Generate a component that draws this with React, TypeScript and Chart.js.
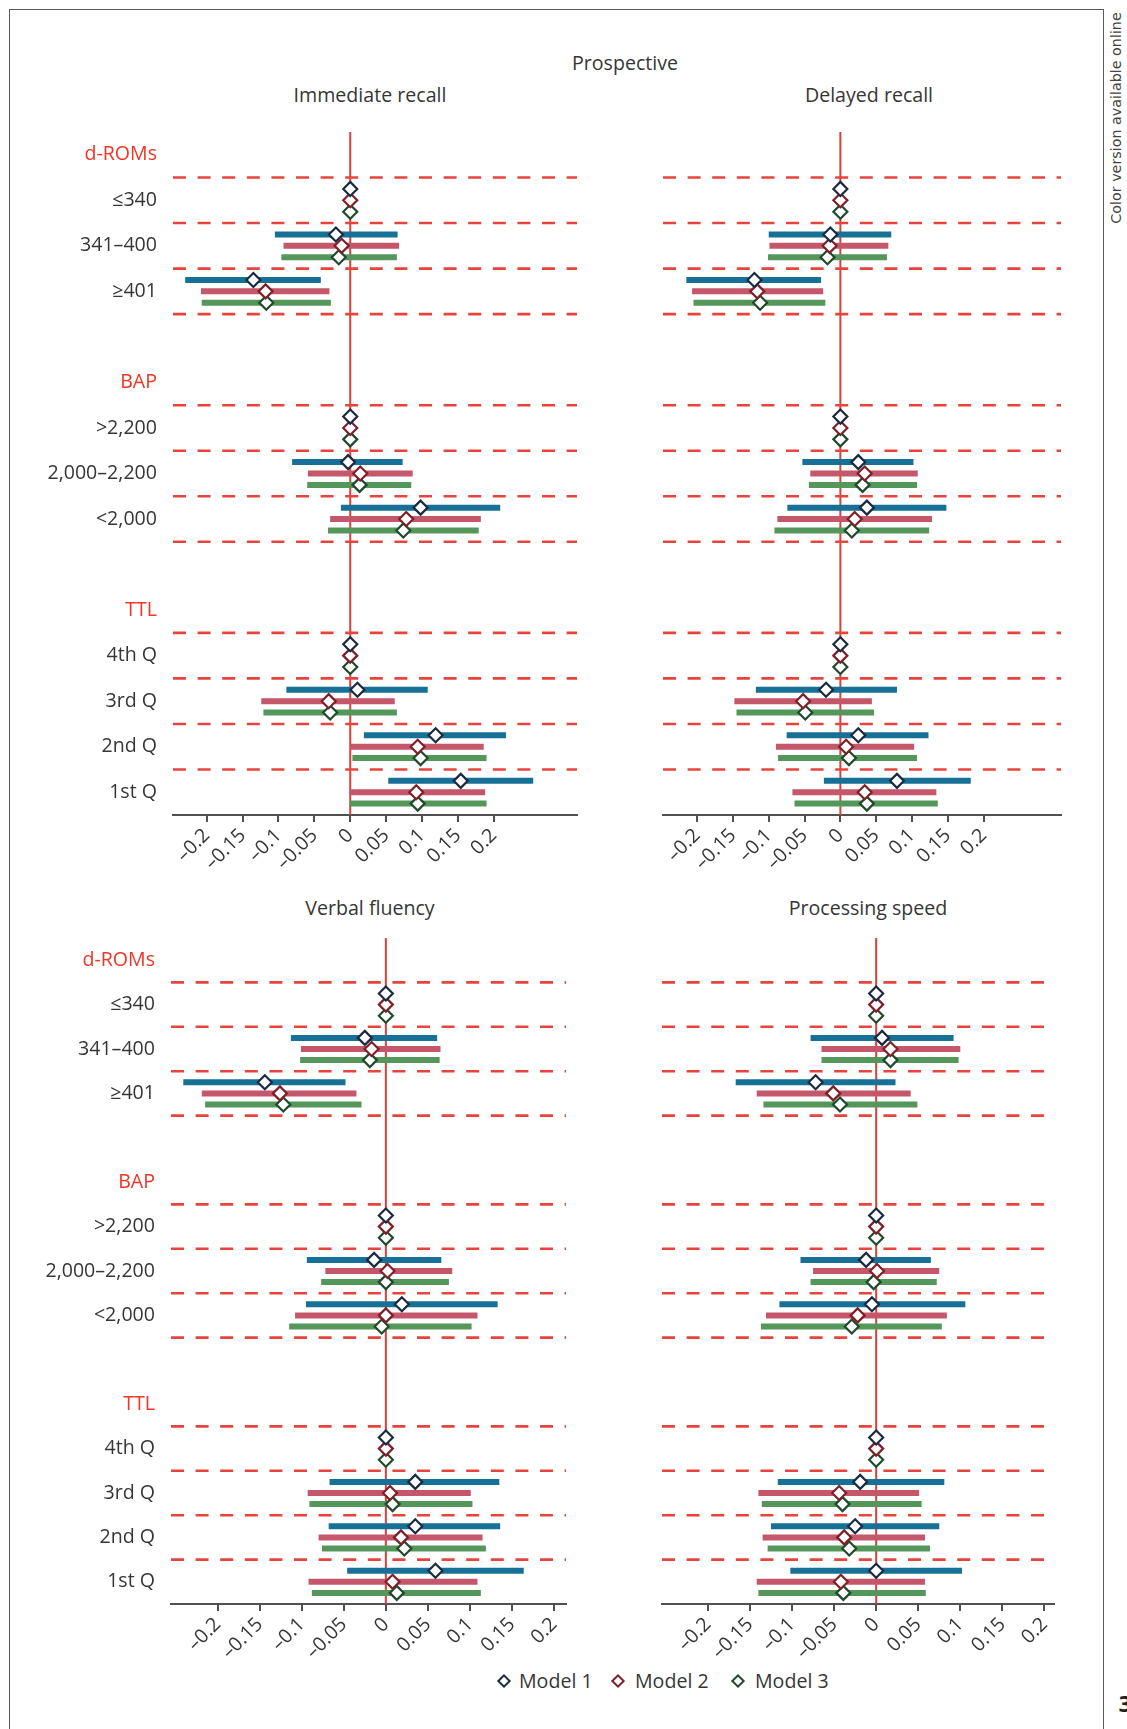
import React, { useEffect, useRef } from 'react';
import { Chart, registerables } from 'chart.js';

Chart.register(...registerables);

// ---------- structure ----------
const GROUPS = ['d-ROMs', 'BAP', 'TTL'];
const LEVELS = [
  ['≤340', '341–400', '≥401'],
  ['>2,200', '2,000–2,200', '<2,000'],
  ['4th Q', '3rd Q', '2nd Q', '1st Q'],
];
const MODELS = ['Model 1', 'Model 2', 'Model 3'];
const X_TICK_VALUES = [-0.2, -0.15, -0.1, -0.05, 0, 0.05, 0.1, 0.15, 0.2];
const X_TICK_LABELS = ['–0.2', '–0.15', '–0.1', '–0.05', '0', '0.05', '0.1', '0.15', '0.2'];

// ---------- data (row order: ≤340, 341–400, ≥401, >2,200, 2,000–2,200, <2,000, 4th Q, 3rd Q, 2nd Q, 1st Q) ----------
// Immediate recall
const IR_M1_EST = [0, -0.020, -0.135, 0, -0.003, 0.098, 0, 0.010, 0.119, 0.154];
const IR_M1_LO = [null, -0.105, -0.230, null, -0.081, -0.013, null, -0.089, 0.019, 0.053];
const IR_M1_HI = [null, 0.066, -0.041, null, 0.073, 0.209, null, 0.108, 0.217, 0.255];
const IR_M2_EST = [0, -0.012, -0.118, 0, 0.014, 0.078, 0, -0.030, 0.094, 0.092];
const IR_M2_LO = [null, -0.093, -0.208, null, -0.059, -0.028, null, -0.124, 0.000, -0.001];
const IR_M2_HI = [null, 0.068, -0.029, null, 0.087, 0.182, null, 0.062, 0.186, 0.188];
const IR_M3_EST = [0, -0.016, -0.117, 0, 0.013, 0.074, 0, -0.028, 0.098, 0.094];
const IR_M3_LO = [null, -0.096, -0.207, null, -0.060, -0.031, null, -0.121, 0.003, -0.001];
const IR_M3_HI = [null, 0.065, -0.027, null, 0.085, 0.179, null, 0.065, 0.190, 0.190];

// Delayed recall
const DR_M1_EST = [0, -0.014, -0.120, 0, 0.025, 0.037, 0, -0.020, 0.025, 0.079];
const DR_M1_LO = [null, -0.100, -0.215, null, -0.053, -0.074, null, -0.118, -0.075, -0.023];
const DR_M1_HI = [null, 0.071, -0.027, null, 0.102, 0.148, null, 0.079, 0.123, 0.182];
const DR_M2_EST = [0, -0.015, -0.116, 0, 0.034, 0.020, 0, -0.052, 0.008, 0.034];
const DR_M2_LO = [null, -0.099, -0.207, null, -0.042, -0.088, null, -0.148, -0.090, -0.067];
const DR_M2_HI = [null, 0.067, -0.024, null, 0.108, 0.128, null, 0.044, 0.103, 0.134];
const DR_M3_EST = [0, -0.018, -0.112, 0, 0.031, 0.016, 0, -0.049, 0.012, 0.037];
const DR_M3_LO = [null, -0.101, -0.205, null, -0.044, -0.092, null, -0.145, -0.087, -0.064];
const DR_M3_HI = [null, 0.065, -0.021, null, 0.107, 0.124, null, 0.047, 0.107, 0.136];

// Verbal fluency
const VF_M1_EST = [0, -0.025, -0.144, 0, -0.014, 0.019, 0, 0.035, 0.035, 0.059];
const VF_M1_LO = [null, -0.113, -0.241, null, -0.094, -0.095, null, -0.067, -0.068, -0.046];
const VF_M1_HI = [null, 0.061, -0.048, null, 0.066, 0.133, null, 0.135, 0.136, 0.164];
const VF_M2_EST = [0, -0.017, -0.126, 0, 0.002, 0.000, 0, 0.005, 0.018, 0.008];
const VF_M2_LO = [null, -0.101, -0.219, null, -0.072, -0.108, null, -0.093, -0.080, -0.092];
const VF_M2_HI = [null, 0.065, -0.035, null, 0.079, 0.109, null, 0.101, 0.115, 0.109];
const VF_M3_EST = [0, -0.019, -0.122, 0, 0.000, -0.005, 0, 0.008, 0.022, 0.013];
const VF_M3_LO = [null, -0.102, -0.215, null, -0.077, -0.115, null, -0.091, -0.076, -0.088];
const VF_M3_HI = [null, 0.064, -0.029, null, 0.075, 0.102, null, 0.103, 0.119, 0.113];

// Processing speed
const PS_M1_EST = [0, 0.007, -0.072, 0, -0.012, -0.005, 0, -0.019, -0.025, 0.000];
const PS_M1_LO = [null, -0.078, -0.167, null, -0.090, -0.115, null, -0.117, -0.125, -0.102];
const PS_M1_HI = [null, 0.092, 0.023, null, 0.065, 0.106, null, 0.081, 0.075, 0.102];
const PS_M2_EST = [0, 0.017, -0.051, 0, 0.001, -0.022, 0, -0.044, -0.038, -0.042];
const PS_M2_LO = [null, -0.065, -0.142, null, -0.075, -0.131, null, -0.140, -0.135, -0.142];
const PS_M2_HI = [null, 0.100, 0.041, null, 0.075, 0.084, null, 0.051, 0.058, 0.058];
const PS_M3_EST = [0, 0.017, -0.043, 0, -0.003, -0.029, 0, -0.040, -0.032, -0.039];
const PS_M3_LO = [null, -0.065, -0.134, null, -0.078, -0.137, null, -0.136, -0.129, -0.140];
const PS_M3_HI = [null, 0.098, 0.049, null, 0.072, 0.078, null, 0.054, 0.064, 0.059];

// ---------- styles ----------
const FONT = '"Open Sans", "DejaVu Sans", sans-serif';
const FONT_SIZE = 19.6;
const TEXT_COLOR = '#363636';
const HEADER_COLOR = '#ee3526';
const BAR_COLORS = ['#177196', '#c5576a', '#55975b'];
const DIAMOND_COLORS = ['#1b2a41', '#7d2028', '#1f4a2b'];
const DASH_COLOR = '#e6443c';
const ZERO_COLOR = '#d9403a';
const MODEL_OFFSETS = [-0.25, 0, 0.25];
const X_AXIS_HEIGHT = 60;

// build row layout from groups
const ROW_LABELS: string[] = [];
const HEADER_ROWS: number[] = [];
const LEVEL_ROWS: number[] = [];
const BOUNDARIES: number[] = [];
GROUPS.forEach((g, gi) => {
  HEADER_ROWS.push(ROW_LABELS.length);
  ROW_LABELS.push(g);
  LEVELS[gi].forEach((lv) => {
    BOUNDARIES.push(ROW_LABELS.length - 0.5);
    LEVEL_ROWS.push(ROW_LABELS.length);
    ROW_LABELS.push(lv);
  });
  if (gi < GROUPS.length - 1) {
    BOUNDARIES.push(ROW_LABELS.length - 0.5);
    ROW_LABELS.push('');
  }
});

type PanelSpec = {
  title: string;
  est: number[][];
  lo: (number | null)[][];
  hi: (number | null)[][];
  xMin: number;
  xMax: number;
  showLabels: boolean;
  yWidth: number;
  left: number;
  top: number;
  w: number;
  h: number;
};

const PANELS: PanelSpec[] = [
  {
    title: 'Immediate recall',
    est: [IR_M1_EST, IR_M2_EST, IR_M3_EST],
    lo: [IR_M1_LO, IR_M2_LO, IR_M3_LO],
    hi: [IR_M1_HI, IR_M2_HI, IR_M3_HI],
    xMin: -0.247, xMax: 0.316, showLabels: true, yWidth: 163,
    left: 10, top: 120, w: 571, h: 755,
  },
  {
    title: 'Delayed recall',
    est: [DR_M1_EST, DR_M2_EST, DR_M3_EST],
    lo: [DR_M1_LO, DR_M2_LO, DR_M3_LO],
    hi: [DR_M1_HI, DR_M2_HI, DR_M3_HI],
    xMin: -0.2476, xMax: 0.308, showLabels: false, yWidth: 63,
    left: 600, top: 120, w: 465, h: 755,
  },
  {
    title: 'Verbal fluency',
    est: [VF_M1_EST, VF_M2_EST, VF_M3_EST],
    lo: [VF_M1_LO, VF_M2_LO, VF_M3_LO],
    hi: [VF_M1_HI, VF_M2_HI, VF_M3_HI],
    xMin: -0.2556, xMax: 0.2143, showLabels: true, yWidth: 161,
    left: 10, top: 926, w: 560, h: 738,
  },
  {
    title: 'Processing speed',
    est: [PS_M1_EST, PS_M2_EST, PS_M3_EST],
    lo: [PS_M1_LO, PS_M2_LO, PS_M3_LO],
    hi: [PS_M1_HI, PS_M2_HI, PS_M3_HI],
    xMin: -0.2546, xMax: 0.2114, showLabels: false, yWidth: 62,
    left: 600, top: 926, w: 458, h: 738,
  },
];

const guidesPlugin = {
  id: 'guides',
  beforeDatasetsDraw(chart: any) {
    const { ctx, chartArea, scales } = chart;
    const x = scales.x;
    const y = scales.y;
    ctx.save();
    // zero reference line
    const px = x.getPixelForValue(0);
    ctx.strokeStyle = ZERO_COLOR;
    ctx.lineWidth = 2;
    ctx.beginPath();
    ctx.moveTo(px, chartArea.top);
    ctx.lineTo(px, chartArea.bottom);
    ctx.stroke();
    // dashed separators
    ctx.strokeStyle = DASH_COLOR;
    ctx.lineWidth = 2.6;
    ctx.setLineDash([13, 11.6]);
    BOUNDARIES.forEach((b) => {
      const py = y.getPixelForValue(b);
      ctx.beginPath();
      ctx.moveTo(chartArea.left, py);
      ctx.lineTo(chartArea.right, py);
      ctx.stroke();
    });
    ctx.restore();
  },
};

function buildConfig(spec: PanelSpec): any {
  const datasets: any[] = [];
  MODELS.forEach((m, mi) => {
    datasets.push({
      label: m,
      data: LEVEL_ROWS.map((r, i) => ({ x: spec.est[mi][i], y: r + MODEL_OFFSETS[mi] })),
      pointStyle: 'rectRot',
      pointRadius: 7,
      pointBorderWidth: 2.2,
      pointBackgroundColor: '#ffffff',
      pointBorderColor: DIAMOND_COLORS[mi],
      showLine: false,
      order: 0,
    });
  });
  MODELS.forEach((m, mi) => {
    const pts: any[] = [];
    LEVEL_ROWS.forEach((r, i) => {
      const lo = spec.lo[mi][i];
      const hi = spec.hi[mi][i];
      if (lo === null || hi === null) return;
      const yy = r + MODEL_OFFSETS[mi];
      pts.push({ x: lo, y: yy }, { x: hi, y: yy }, { x: null, y: null });
    });
    datasets.push({
      label: m + ' CI',
      data: pts,
      showLine: true,
      spanGaps: false,
      borderColor: BAR_COLORS[mi],
      borderWidth: 6,
      borderCapStyle: 'butt',
      pointRadius: 0,
      pointHoverRadius: 0,
      order: 1,
    });
  });

  return {
    type: 'scatter',
    data: { datasets },
    plugins: [guidesPlugin],
    options: {
      animation: false,
      responsive: false,
      maintainAspectRatio: false,
      events: [],
      layout: { autoPadding: false, padding: { top: 12, right: 4, bottom: 0, left: 0 } },
      plugins: { legend: { display: false }, tooltip: { enabled: false }, title: { display: false } },
      scales: {
        x: {
          type: 'linear',
          min: spec.xMin,
          max: spec.xMax,
          afterBuildTicks: (s: any) => {
            s.ticks = X_TICK_VALUES.map((v) => ({ value: v }));
          },
          afterFit: (s: any) => {
            s.height = X_AXIS_HEIGHT;
            s.paddingLeft = 0;
            s.paddingRight = 0;
          },
          ticks: {
            autoSkip: false,
            minRotation: 45,
            maxRotation: 45,
            padding: 2,
            color: TEXT_COLOR,
            font: { family: FONT, size: FONT_SIZE },
            callback: (_v: any, i: number) => X_TICK_LABELS[i],
          },
          grid: {
            display: true,
            drawOnChartArea: false,
            drawTicks: true,
            tickLength: 7,
            color: '#505050',
            lineWidth: 2,
          },
          border: { display: true, color: '#505050', width: 2 },
        },
        y: {
          type: 'linear',
          min: -0.5,
          max: ROW_LABELS.length - 0.5,
          reverse: true,
          afterBuildTicks: (s: any) => {
            s.ticks = ROW_LABELS.map((_l, i) => ({ value: i }));
          },
          afterFit: (s: any) => {
            s.width = spec.yWidth;
            s.paddingTop = 0;
            s.paddingBottom = 0;
          },
          ticks: {
            autoSkip: false,
            padding: 16,
            font: { family: FONT, size: FONT_SIZE },
            color: (ctx: any) => (HEADER_ROWS.includes(ctx.index) ? HEADER_COLOR : TEXT_COLOR),
            callback: (_v: any, i: number) => (spec.showLabels ? ROW_LABELS[i] : ''),
          },
          grid: { display: false, drawTicks: false },
          border: { display: false },
        },
      },
    },
  };
}

function Panel({ spec }: { spec: PanelSpec }) {
  const ref = useRef<HTMLCanvasElement | null>(null);
  useEffect(() => {
    if (!ref.current) return;
    const chart = new Chart(ref.current, buildConfig(spec));
    return () => chart.destroy();
  }, [spec]);
  return (
    <canvas
      ref={ref}
      width={spec.w}
      height={spec.h}
      style={{ position: 'absolute', left: spec.left, top: spec.top, width: spec.w, height: spec.h }}
    />
  );
}

const centered = (cx: number, cy: number, extra: any = {}) => ({
  position: 'absolute' as const,
  left: cx,
  top: cy,
  transform: 'translate(-50%, -50%)',
  whiteSpace: 'nowrap' as const,
  lineHeight: 1,
  fontFamily: FONT,
  fontSize: FONT_SIZE,
  color: TEXT_COLOR,
  ...extra,
});

const TITLE_POS = [
  [370, 95],
  [869, 95],
  [370, 908],
  [868, 908],
];
const LEGEND_DIAMOND_X = [504, 618, 738];
const LEGEND_TEXT_X = [519, 635, 755];
const LEGEND_Y = 1681;

export default function App() {
  return (
    <div
      style={{
        position: 'absolute',
        left: 0,
        top: 0,
        width: 1127,
        height: 1729,
        overflow: 'hidden',
        background: '#ffffff',
      }}
    >
      {/* frame */}
      <div
        style={{
          position: 'absolute',
          left: 9,
          top: 9,
          width: 1095,
          height: 1760,
          borderLeft: '1.5px solid #5a5a5a',
          borderTop: '1.5px solid #5a5a5a',
          borderRight: '1.5px solid #5a5a5a',
          boxSizing: 'border-box',
        }}
      />
      <div style={centered(625, 63)}>Prospective</div>
      {PANELS.map((p, i) => (
        <div key={'t' + i} style={centered(TITLE_POS[i][0], TITLE_POS[i][1])}>
          {p.title}
        </div>
      ))}
      {PANELS.map((p, i) => (
        <Panel key={i} spec={p} />
      ))}
      {/* legend */}
      {MODELS.map((m, i) => (
        <React.Fragment key={'l' + i}>
          <div
            style={{
              position: 'absolute',
              left: LEGEND_DIAMOND_X[i] - 5,
              top: LEGEND_Y - 5,
              width: 10,
              height: 10,
              boxSizing: 'border-box',
              border: '2px solid ' + DIAMOND_COLORS[i],
              background: '#fff',
              transform: 'rotate(45deg)',
            }}
          />
          <div
            style={{
              position: 'absolute',
              left: LEGEND_TEXT_X[i],
              top: LEGEND_Y,
              transform: 'translateY(-50%)',
              whiteSpace: 'nowrap',
              lineHeight: 1,
              fontFamily: FONT,
              fontSize: FONT_SIZE,
              color: TEXT_COLOR,
            }}
          >
            {m}
          </div>
        </React.Fragment>
      ))}
      {/* side note */}
      <div
        style={centered(1116, 118, {
          transform: 'translate(-50%, -50%) rotate(-90deg)',
          fontFamily: '"DejaVu Sans", sans-serif',
          fontSize: 14.3,
          color: '#444',
        })}
      >
        Color version available online
      </div>
      <div
        style={{
          position: 'absolute',
          left: 1118,
          top: 1694,
          fontFamily: '"DejaVu Sans", sans-serif',
          fontWeight: 'bold',
          fontSize: 22,
          lineHeight: 1,
          color: '#222',
        }}
      >
        3
      </div>
    </div>
  );
}
